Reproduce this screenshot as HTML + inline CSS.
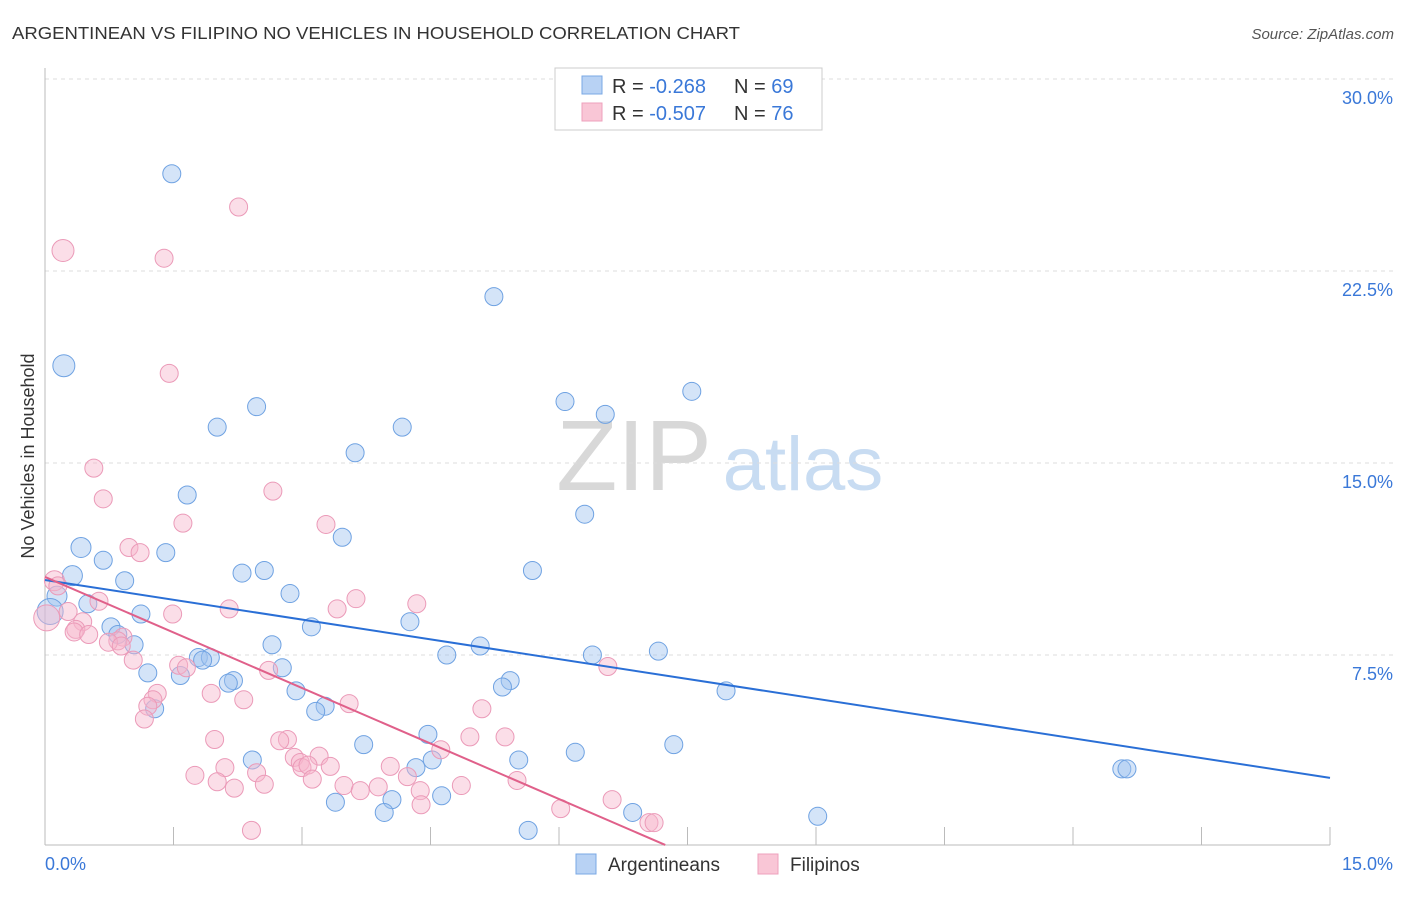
<!DOCTYPE html>
<html><head><meta charset="utf-8"><style>
body{margin:0;background:#fff;font-family:"Liberation Sans",sans-serif;}
svg text{font-family:"Liberation Sans",sans-serif;}
</style></head><body>
<svg id="c" width="1406" height="892">
<text x="12" y="39" font-size="17.5" fill="#333" textLength="728" lengthAdjust="spacingAndGlyphs">ARGENTINEAN VS FILIPINO NO VEHICLES IN HOUSEHOLD CORRELATION CHART</text>
<text x="1394" y="39" font-size="15" fill="#555" text-anchor="end" font-style="italic">Source: ZipAtlas.com</text>
<g>
<text x="634" y="490" font-size="100" fill="#d8d8d8" text-anchor="middle" font-family="Liberation Serif,serif">ZIP</text>
<text x="803" y="490" font-size="76" fill="#c8dcf2" text-anchor="middle">atlas</text>
</g>
<g id="grid"></g>
<g id="axes"></g>
<text x="34" y="456" font-size="18" fill="#333" text-anchor="middle" transform="rotate(-90 34 456)">No Vehicles in Household</text>
<g id="pts"></g>
<g id="lines"></g>
<g>
<rect x="555" y="68" width="267" height="62" fill="#fff" stroke="#ccc"/>
<rect x="582" y="76" width="20" height="18" fill="#b8d2f4" stroke="#7aa8e4"/>
<rect x="582" y="103" width="20" height="18" fill="#f9c6d6" stroke="#eea0bc"/>
<text x="612" y="93" font-size="20" fill="#333">R = <tspan fill="#3a78d8">-0.268</tspan><tspan dx="28">N = </tspan><tspan fill="#3a78d8">69</tspan></text>
<text x="612" y="120" font-size="20" fill="#333">R = <tspan fill="#3a78d8">-0.507</tspan><tspan dx="28">N = </tspan><tspan fill="#3a78d8">76</tspan></text>
</g>
<g>
<rect x="576" y="854" width="20" height="20" fill="#b8d2f4" stroke="#7aa8e4"/>
<text x="608" y="871" font-size="19" fill="#333">Argentineans</text>
<rect x="758" y="854" width="20" height="20" fill="#f9c6d6" stroke="#eea0bc"/>
<text x="790" y="871" font-size="19" fill="#333">Filipinos</text>
</g>
</svg>
<script>
const yTicks=[30,22.5,15,7.5];
const yTickLabels=["30.0%","22.5%","15.0%","7.5%"];
const xTickLabels=["0.0%","15.0%"];
const blueX=[1.48,0.22,5.24,6.07,7.55,6.54,2.47,2.01,4.17,3.62,1.66,6.30,3.47,0.42,1.41,0.68,2.30,2.56,5.69,0.32,0.93,0.14,2.86,0.50,0.06,1.12,4.26,3.11,0.77,0.85,1.04,2.65,5.08,4.69,6.39,7.16,1.79,1.93,1.84,1.20,1.58,2.77,2.20,2.14,5.43,5.34,2.93,7.95,1.28,3.27,3.16,4.47,7.34,3.72,6.19,2.42,4.52,5.53,4.33,12.57,12.63,4.63,4.05,3.39,3.96,6.86,9.02,5.64];
const blueY=[26.3,18.8,21.5,17.4,17.8,16.9,17.2,16.4,16.4,15.4,13.75,13.0,12.1,11.7,11.5,11.2,10.7,10.8,10.8,10.6,10.4,9.8,9.9,9.5,9.2,9.1,8.8,8.6,8.6,8.3,7.9,7.9,7.85,7.5,7.5,7.65,7.4,7.4,7.3,6.8,6.7,7.0,6.5,6.4,6.5,6.25,6.1,6.1,5.4,5.5,5.3,4.4,4.0,4.0,3.7,3.4,3.4,3.4,3.1,3.05,3.05,2.0,1.85,1.75,1.35,1.35,1.2,0.65];
const blueR=[9,11,9,9,9,9,9,9,9,9,9,9,9,10,9,9,9,9,9,10,9,10,9,9,13,9,9,9,9,9,9,9,9,9,9,9,9,9,9,9,9,9,9,9,9,9,9,9,9,9,9,9,9,9,9,9,9,9,9,9,9,9,9,9,9,9,9,9];
const pinkX=[2.26,0.21,1.39,1.45,0.57,2.66,0.68,1.61,3.28,0.98,1.11,0.11,0.15,0.27,0.63,3.63,3.41,2.15,4.34,1.49,0.02,0.44,0.36,0.34,0.51,0.91,0.85,0.74,0.89,1.03,1.56,1.65,2.61,6.57,1.31,1.26,1.94,2.32,3.55,1.20,5.10,1.16,1.98,2.83,2.74,4.96,5.37,4.62,3.20,2.91,2.98,3.00,3.07,3.33,4.03,2.10,2.47,1.75,3.12,4.23,5.51,2.01,2.21,2.56,3.49,3.89,3.68,4.86,4.38,4.39,6.62,6.02,7.05,7.11,2.41];
const pinkY=[25.0,23.3,23.0,18.5,14.8,13.9,13.6,12.65,12.6,11.7,11.5,10.4,10.2,9.2,9.6,9.7,9.3,9.3,9.5,9.1,8.95,8.8,8.5,8.4,8.3,8.2,8.05,8.0,7.85,7.3,7.1,7.0,6.9,7.05,6.0,5.75,6.0,5.75,5.6,5.5,5.4,5.0,4.2,4.2,4.15,4.3,4.3,3.8,3.55,3.5,3.3,3.1,3.2,3.15,3.15,3.1,2.9,2.8,2.65,2.75,2.6,2.55,2.3,2.45,2.4,2.35,2.2,2.4,2.2,1.65,1.85,1.5,0.95,0.95,0.65];
const pinkR=[9,11,9,9,9,9,9,9,9,9,9,10,9,9,9,9,9,9,9,9,13,9,9,9,9,9,9,9,9,9,9,9,9,9,9,9,9,9,9,9,9,9,9,9,9,9,9,9,9,9,9,9,9,9,9,9,9,9,9,9,9,9,9,9,9,9,9,9,9,9,9,9,9,9,9];
const blueLineX=[0,15], blueLineY=[10.43,2.70];
const pinkLineX=[0,7.24], pinkLineY=[10.55,0.08];
const X0=45,X1=1330,YB=847,PXY=25.6;
const sx=v=>X0+v/15*(X1-X0), sy=v=>YB-v*PXY;
const NS="http://www.w3.org/2000/svg";
function mk(tag,at,parent){const e=document.createElementNS(NS,tag);for(const k in at)e.setAttribute(k,at[k]);parent.appendChild(e);return e;}
const grid=document.getElementById('grid'),axes=document.getElementById('axes');
yTicks.forEach((t,i)=>{
 const l=mk('line',{x1:X0,x2:1393,y1:sy(t),y2:sy(t),stroke:'#ddd','stroke-dasharray':'4,4'},grid);
 
 
 const tx=mk('text',{x:1393,y:sy(t)+25,'font-size':18,fill:'#3a78d8','text-anchor':'end'},axes);
 tx.textContent=yTickLabels[i];
 
 
});
const ax=mk('line',{x1:X0,x2:X1,y1:845,y2:845,stroke:'#bbb'},axes);


const ay=mk('line',{x1:X0,x2:X0,y1:68,y2:845,stroke:'#bbb'},axes);


for(let i=0;i<=10;i++){const x=sx(i*1.5);const t=mk('line',{x1:x,x2:x,y1:827,y2:845,stroke:'#bbb'},axes);
 
 }
[[0,'start',45],[15,'end',1393]].forEach((d,i)=>{const t=mk('text',{x:d[2],y:870,'font-size':18,fill:'#3a78d8','text-anchor':d[1]},axes);t.textContent=xTickLabels[i];
 
 });
const pts=document.getElementById('pts');
blueX.forEach((v,i)=>{const c=mk('circle',{cx:sx(v),cy:sy(blueY[i]),r:blueR[i],fill:'rgba(160,196,240,0.45)',stroke:'#6fa2e2','stroke-width':1},pts);
 
 });
pinkX.forEach((v,i)=>{const c=mk('circle',{cx:sx(v),cy:sy(pinkY[i]),r:pinkR[i],fill:'rgba(246,182,204,0.45)',stroke:'#eb9ab8','stroke-width':1},pts);
 
 });
const lines=document.getElementById('lines');
const bl=mk('line',{x1:sx(blueLineX[0]),y1:sy(blueLineY[0]),x2:sx(blueLineX[1]),y2:sy(blueLineY[1]),stroke:'#2a6fd6','stroke-width':2},lines);


const pl=mk('line',{x1:sx(pinkLineX[0]),y1:sy(pinkLineY[0]),x2:sx(pinkLineX[1]),y2:sy(pinkLineY[1]),stroke:'#e0608a','stroke-width':2},lines);


</script>
</body></html>
